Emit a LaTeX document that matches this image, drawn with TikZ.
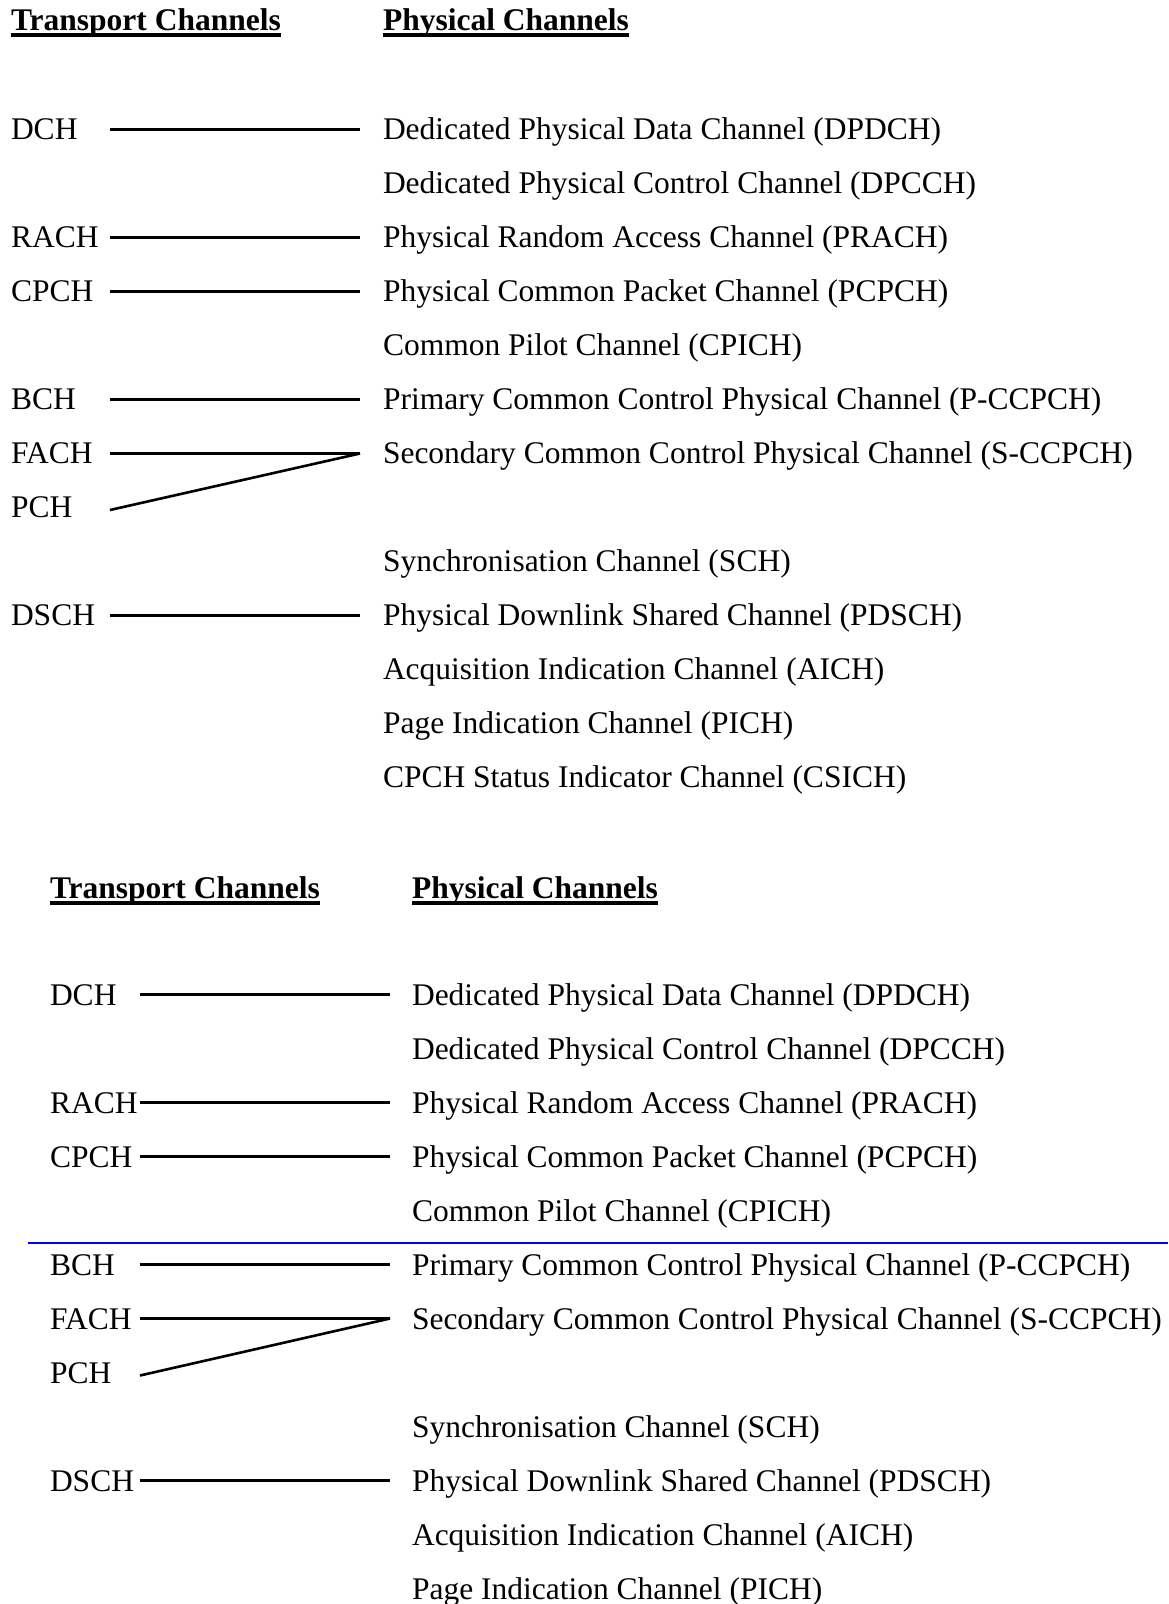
\documentclass[tikz,border=0pt]{standalone}
\usepackage{fontspec}
\setmainfont{Liberation Serif}
\begin{document}
\begin{tikzpicture}[x=0.5pt,y=-0.5pt,
  lbl/.style={inner sep=0pt,outer sep=0pt,anchor=base west,font=\fontsize{15.75}{18}\selectfont},
  hdr/.style={lbl,font=\fontsize{15.75}{18}\selectfont\bfseries},
  uline/.style={line width=2pt},
  conn/.style={line width=1.3pt,line cap=butt}]
\useasboundingbox[fill=white] (0,0) rectangle (1168,1604);

% ---------- top diagram ----------
\node[hdr] (tTh) at (11,30.5) {Transport Channels};
\node[hdr] (tPh) at (383,30.5) {Physical Channels};
\draw[uline] ([yshift=-2.3pt]tTh.base west) -- ([yshift=-2.3pt]tTh.base east);
\draw[uline] ([yshift=-2.3pt]tPh.base west) -- ([yshift=-2.3pt]tPh.base east);

\node[lbl] (tDCH)  at (11,139.5) {DCH};
\node[lbl] (tRACH) at (11,247.5) {RACH};
\node[lbl] (tCPCH) at (11,301.5) {CPCH};
\node[lbl] (tBCH)  at (11,409.5) {BCH};
\node[lbl] (tFACH) at (11,463.5) {FACH};
\node[lbl] (tPCH)  at (11,517.5) {PCH};
\node[lbl] (tDSCH) at (11,625.5) {DSCH};

\node[lbl] (tP0)  at (383,139.5) {Dedicated Physical Data Channel (DPDCH)};
\node[lbl] (tP1)  at (383,193.5) {Dedicated Physical Control Channel (DPCCH)};
\node[lbl] (tP2)  at (383,247.5) {Physical Random Access Channel (PRACH)};
\node[lbl] (tP3)  at (383,301.5) {Physical Common Packet Channel (PCPCH)};
\node[lbl] (tP4)  at (383,355.5) {Common Pilot Channel (CPICH)};
\node[lbl] (tP5)  at (383,409.5) {Primary Common Control Physical Channel (P-CCPCH)};
\node[lbl] (tP6)  at (383,463.5) {Secondary Common Control Physical Channel (S-CCPCH)};
\node[lbl] (tP8)  at (383,571.5) {Synchronisation Channel (SCH)};
\node[lbl] (tP9)  at (383,625.5) {Physical Downlink Shared Channel (PDSCH)};
\node[lbl] (tP10) at (383,679.5) {Acquisition Indication Channel (AICH)};
\node[lbl] (tP11) at (383,733.5) {Page Indication Channel (PICH)};
\node[lbl] (tP12) at (383,787.5) {CPCH Status Indicator Channel (CSICH)};

\coordinate (tDCHa)  at (110,129.5); \coordinate (tDCHb)  at (360,129.5);
\coordinate (tRACHa) at (110,237.5); \coordinate (tRACHb) at (360,237.5);
\coordinate (tCPCHa) at (110,291.5); \coordinate (tCPCHb) at (360,291.5);
\coordinate (tBCHa)  at (110,399.5); \coordinate (tBCHb)  at (360,399.5);
\coordinate (tFACHa) at (110,453.5); \coordinate (tFACHb) at (360,453.5);
\coordinate (tPCHa)  at (110,510);
\coordinate (tDSCHa) at (110,615.5); \coordinate (tDSCHb) at (360,615.5);

\draw[conn] (tDCHa) -- (tDCHb);
\draw[conn] (tRACHa) -- (tRACHb);
\draw[conn] (tCPCHa) -- (tCPCHb);
\draw[conn] (tBCHa) -- (tBCHb);
\draw[conn] (tFACHa) -- (tFACHb);
\draw[conn] (tPCHa) -- (tFACHb);
\draw[conn] (tDSCHa) -- (tDSCHb);

% ---------- bottom diagram ----------
\node[hdr] (bTh) at (50,898) {Transport Channels};
\node[hdr] (bPh) at (412,898) {Physical Channels};
\draw[uline] ([yshift=-2.4pt]bTh.base west) -- ([yshift=-2.4pt]bTh.base east);
\draw[uline] ([yshift=-2.4pt]bPh.base west) -- ([yshift=-2.4pt]bPh.base east);

\node[lbl] (bDCH)  at (50,1005.5) {DCH};
\node[lbl] (bRACH) at (50,1113.5) {RACH};
\node[lbl] (bCPCH) at (50,1167.5) {CPCH};
\node[lbl] (bBCH)  at (50,1275.5) {BCH};
\node[lbl] (bFACH) at (50,1329.5) {FACH};
\node[lbl] (bPCH)  at (50,1383.5) {PCH};
\node[lbl] (bDSCH) at (50,1491.5) {DSCH};

\node[lbl] (bP0)  at (412,1005.5) {Dedicated Physical Data Channel (DPDCH)};
\node[lbl] (bP1)  at (412,1059.5) {Dedicated Physical Control Channel (DPCCH)};
\node[lbl] (bP2)  at (412,1113.5) {Physical Random Access Channel (PRACH)};
\node[lbl] (bP3)  at (412,1167.5) {Physical Common Packet Channel (PCPCH)};
\node[lbl] (bP4)  at (412,1221.5) {Common Pilot Channel (CPICH)};
\node[lbl] (bP5)  at (412,1275.5) {Primary Common Control Physical Channel (P-CCPCH)};
\node[lbl] (bP6)  at (412,1329.5) {Secondary Common Control Physical Channel (S-CCPCH)};
\node[lbl] (bP8)  at (412,1437.5) {Synchronisation Channel (SCH)};
\node[lbl] (bP9)  at (412,1491.5) {Physical Downlink Shared Channel (PDSCH)};
\node[lbl] (bP10) at (412,1545.5) {Acquisition Indication Channel (AICH)};
\node[lbl] (bP11) at (412,1599.5) {Page Indication Channel (PICH)};

\coordinate (bDCHa)  at (140,994.5);  \coordinate (bDCHb)  at (390,994.5);
\coordinate (bRACHa) at (140,1102.5); \coordinate (bRACHb) at (390,1102.5);
\coordinate (bCPCHa) at (140,1156.5); \coordinate (bCPCHb) at (390,1156.5);
\coordinate (bBCHa)  at (140,1264.5); \coordinate (bBCHb)  at (390,1264.5);
\coordinate (bFACHa) at (140,1318.5); \coordinate (bFACHb) at (390,1318.5);
\coordinate (bPCHa)  at (140,1375.5);
\coordinate (bDSCHa) at (140,1480.5); \coordinate (bDSCHb) at (390,1480.5);

\draw[conn] (bDCHa) -- (bDCHb);
\draw[conn] (bRACHa) -- (bRACHb);
\draw[conn] (bCPCHa) -- (bCPCHb);
\draw[conn] (bBCHa) -- (bBCHb);
\draw[conn] (bFACHa) -- (bFACHb);
\draw[conn] (bPCHa) -- (bFACHb);
\draw[conn] (bDSCHa) -- (bDSCHb);

% blue rule
\coordinate (blueA) at (28,1243);
\coordinate (blueB) at (1168,1243);
\draw[blue,line width=1pt] (blueA) -- (blueB);
\end{tikzpicture}
\end{document}
